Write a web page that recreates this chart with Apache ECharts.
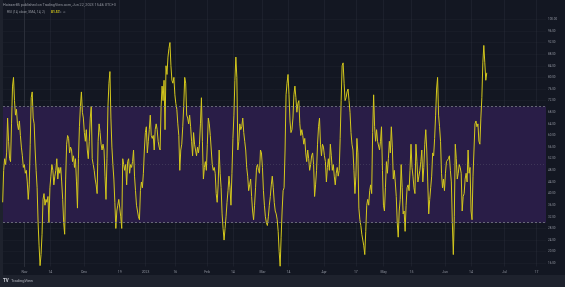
<!DOCTYPE html>
<html><head><meta charset="utf-8">
<script src="https://cdn.jsdelivr.net/npm/echarts@6/dist/echarts.min.js"></script>
<style>html,body{margin:0;padding:0;background:#1e222d;}#c{width:565px;height:287px;}</style>
</head><body><div id="c"></div>
<script>
// RSI values, evenly spaced in time from firstDay to lastDay
const rsi = [
37,48,52,50,54,66,58,52,51,64,
77,80,72,67,69,64,62,65,60,56,
53,49,50,47,48,44,38,43,57,73,
75,66,64,55,48,42,30,22,15.2,19,
26,38,40,36,38,37,39,30,42,46,
50,48,43,46,48,52,45,49,47,49,
44,38,30,26,45,57,60,59,54,56,
55,51,53,49,52,44,35,52,63,70,
75,68,66,61,58,62,55,52,58,66,
70,52,50,48,45,43,40,58,64,61,
57,55,57,55,46,38,52,70,78,82,
66,56,50,45,37,28,34,36,38,35,
32,28,52,50,48,50,43,51,52,47,
50,49,51,55,46,41,36,34,32,31,
41,44,42,47,55,61,63,54,58,62,
67,60,59,60,55,62,64,62,58,56,
55,70,77,72,79,62,84,81,87,90,
92,84,79,78,80,74,71,69,64,60,
48,55,57,63,70,80,78,67,66,64,
67,63,58,53,61,57,55,53,56,54,
57,64,73,58,45,49,51,48,57,66,
64,60,55,50,48,49,47,40,37,43,
55,47,42,33,28,24,28,32,37,41,
46,42,36,47,59,67,79,87,80,55,
58,64,62,63,66,61,58,55,49,46,
41,43,45,39,34,31,36,42,49,50,
48,47,55,54,49,41,36,32,30,29,
32,36,39,43,46,42,37,34,33,31,
27,20,15,25,34,41,42,55,74,78,
81,74,65,61,62,66,74,77,73,68,
71,72,64,60,62,60,57,59,54,51,
55,52,48,50,53,54,50,39,43,48,
57,63,66,57,53,57,56,53,51,44,
49,52,48,57,53,48,50,46,43,47,
49,46,48,59,72,84,85,78,72,73,
75,76,72,68,61,57,55,48,40,46,
59,54,35,31,29,26,24,22,19,27,
36,38,36,41,43,40,61,74,63,58,
62,58,58,55,58,63,48,36,34,42,
51,47,52,58,54,63,56,45,48,44,
39,30,25,34,38,50,42,33,34,27,
36,42,43,41,48,57,49,46,42,40,
57,51,44,46,48,51,55,44,49,57,
62,55,44,33,38,42,46,54,53,59,
67,76,80,67,63,58,47,42,45,41,
47,51,51,52,53,48,44,30,19,32,
57,52,45,47,50,49,47,34,39,40,
45,47,44,55,47,49,34,31,46,55,
64,65,63,64,58,57,66,73,85,91,
85,79,81.57
];
// days counted from 2022-11-01
const firstDay = -11;   // 2022-10-21
const lastDay = 233;    // 2023-06-22
const xTickDays = [0,13,30,48,61,76,92,105,120,133,151,167,181,195,212,225,242,258];
const xTickLabels = ['Nov','14','Dec','19','2023','16','Feb','14','Mar','14','Apr','17','May','15','Jun','14','Jul','17'];
const yTickValues = [16,20,24,28,32,36,40,44,48,52,56,60,64,68,72,76,80,84,88,92,96,100];
const overbought = 70, oversold = 30, middle = 50;
const lastValueText = '81.57';
const headerText = 'Hoisser85 published on TradingView.com, Jun 22, 2023 15:46 UTC+3';
const legendText = 'RSI (14, close, SMA, 14, 2)';

const step = (lastDay - firstDay) / (rsi.length - 1);
const seriesData = rsi.map((v, i) => [firstDay + i * step, v]);

const chart = echarts.init(document.getElementById('c'), null, {renderer: 'canvas'});
const font = 'Roboto, "DejaVu Sans", sans-serif';
chart.setOption({
  backgroundColor: '#1e222d',
  animation: false,
  grid: {left: 3, right: 19, top: 0, bottom: 20.5, show: false},
  xAxis: {
    type: 'value', min: -10.84, max: 262.85,
    axisLine: {show: false},
    axisTick: {show: false, customValues: xTickDays},
    axisLabel: {customValues: xTickDays, formatter: v => xTickLabels[xTickDays.indexOf(v)] || '',
      fontSize: 3.4, color: '#8f939e', margin: 4, fontFamily: font},
    splitLine: {show: true, lineStyle: {color: 'rgba(60,64,76,0.4)', width: 0.6}}
  },
  yAxis: {
    type: 'value', position: 'right', min: 14.9, max: 106.64,
    axisLine: {show: true, lineStyle: {color: '#2a2e39', width: 1}},
    axisTick: {show: false, customValues: yTickValues},
    axisLabel: {customValues: yTickValues, formatter: v => v.toFixed(2),
      fontSize: 3, color: '#8f939e', margin: 2, fontFamily: font},
    splitLine: {show: true, lineStyle: {color: 'rgba(60,64,76,0.22)', width: 0.6}}
  },
  graphic: [
    {type: 'rect', z: -1, shape: {x: 3, y: 0, width: 562, height: 275}, style: {fill: '#131722'}},
    {type: 'text', z: 10, left: 3, top: 3, style: {text: headerText, fill: '#9598a1', font: '3.7px ' + font}},
    {type: 'text', z: 10, left: 7, top: 11, style: {text: legendText, fill: '#9598a1', font: '3.3px ' + font}},
    {type: 'text', z: 10, left: 51, top: 11, style: {text: lastValueText, fill: '#d8cc1c', font: 'bold 3.3px ' + font}},
    {type: 'text', z: 10, left: 59, top: 11, style: {text: '\u2298  \u2298', fill: '#787b86', font: '3px ' + font}},
    {type: 'text', z: 10, left: 3, top: 278.5, style: {text: 'TV', fill: '#d1d4dc', font: 'bold 4.5px ' + font}},
    {type: 'text', z: 10, left: 11, top: 279, style: {text: 'TradingView', fill: '#b2b5be', font: '4px ' + font}}
  ],
  series: [
    {
      type: 'line', data: [], z: 1, silent: true,
      markArea: {silent: true, itemStyle: {color: '#291d47'}, data: [[{yAxis: oversold}, {yAxis: overbought}]]},
      markLine: {silent: true, symbol: 'none', label: {show: false},
        data: [
          {yAxis: overbought, lineStyle: {type: [2, 2], color: '#787b86', width: 0.8}},
          {yAxis: oversold, lineStyle: {type: [2, 2], color: '#787b86', width: 0.8}},
          {yAxis: middle, lineStyle: {type: [1, 2], color: 'rgba(120,123,134,0.45)', width: 0.6}}
        ]}
    },
    {
      type: 'line', data: seriesData, z: 3, showSymbol: false, silent: true,
      lineStyle: {color: '#d4c81c', width: 1}
    }
  ]
});
</script>
</body></html>
